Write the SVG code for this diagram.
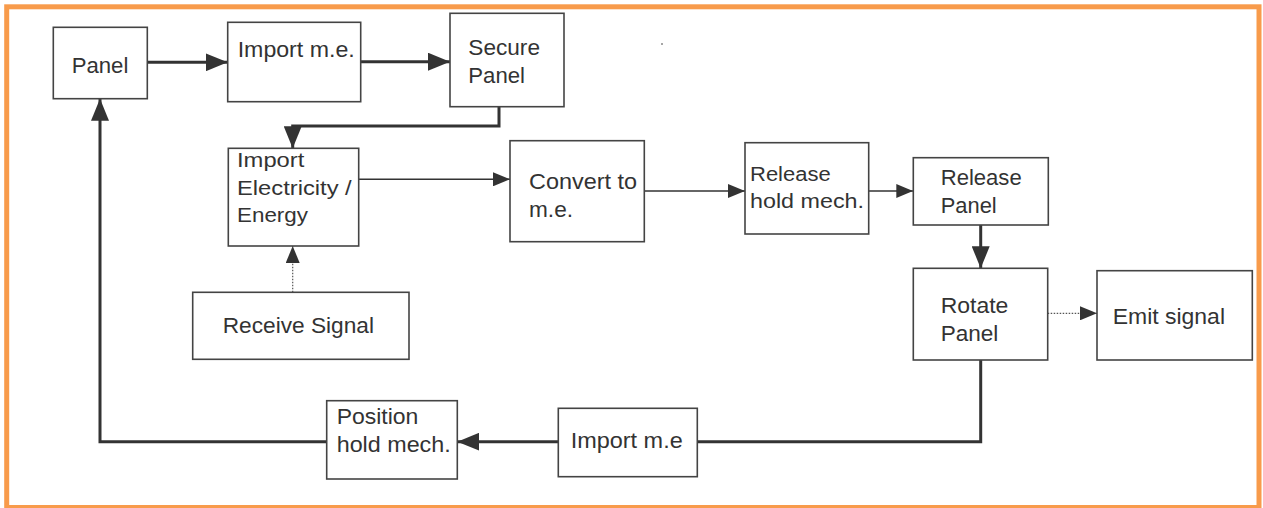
<svg xmlns="http://www.w3.org/2000/svg" width="1263" height="508" viewBox="0 0 1263 508">
  <style>
    .box { fill: #ffffff; stroke: #444444; stroke-width: 1.6; }
    .lbl { font-family: "Liberation Sans", Arial, Helvetica, sans-serif; font-size: 22px; fill: #333333; }
    .sm { font-size: 20px; }
    .thick { fill: none; stroke: #333333; stroke-width: 3; }
    .thin { fill: none; stroke: #333333; stroke-width: 1.5; }
    .dot { fill: none; stroke: #555555; stroke-width: 1.2; stroke-dasharray: 1.5 1.5; }
  </style>
  <defs>
    <marker id="headThick" markerUnits="userSpaceOnUse" markerWidth="22" markerHeight="18" refX="22" refY="9" orient="auto">
      <path d="M0,0 L22,9 L0,18 Z" fill="#333333"/>
    </marker>
    <marker id="headThin" markerUnits="userSpaceOnUse" markerWidth="17" markerHeight="14" refX="17" refY="7" orient="auto">
      <path d="M0,0 L17,7 L0,14 Z" fill="#333333"/>
    </marker>
  </defs>

  <rect width="1263" height="508" fill="#ffffff"/>
  <!-- frame -->
  <rect x="6.7" y="6.8" width="1252.3" height="500.7" fill="none" stroke="#F89B4B" stroke-width="5"/>
  <circle cx="662" cy="44" r="1" fill="#888888"/>

  <!-- connectors -->
  <g id="connectors">
    <path class="thick" d="M147.3,62.3 H227.7" marker-end="url(#headThick)"/>
    <path class="thick" d="M360.7,61.7 H450" marker-end="url(#headThick)"/>
    <path class="thick" d="M499,106.7 V126 H292.7 V148.3" marker-end="url(#headThick)"/>
    <path class="thin" d="M358.7,179.3 H510" marker-end="url(#headThin)"/>
    <path class="thin" d="M644.3,191 H745" marker-end="url(#headThin)"/>
    <path class="thin" d="M868.7,191 H913.3" marker-end="url(#headThin)"/>
    <path class="thick" d="M980.7,225 V268.3" marker-end="url(#headThick)"/>
    <path class="dot" d="M1047.7,313.3 H1097" marker-end="url(#headThin)"/>
    <path class="thick" d="M980.7,360 V441.7 H697.3"/>
    <path class="thick" d="M558.3,441.7 H457.3" marker-end="url(#headThick)"/>
    <path class="thick" d="M326.7,441.7 H100 V98.7" marker-end="url(#headThick)"/>
    <path class="dot" d="M292.7,292.3 V246" marker-end="url(#headThin)"/>
  </g>

  <!-- nodes -->
  <g id="panel">
    <rect class="box" x="53.3" y="27.3" width="94" height="71.4"/>
    <text class="lbl" x="71.7" y="72.7" textLength="56.7" lengthAdjust="spacingAndGlyphs">Panel</text>
  </g>
  <g id="import-me-top">
    <rect class="box" x="227.7" y="22.3" width="133" height="79.4"/>
    <text class="lbl" x="237.7" y="56.7" textLength="117" lengthAdjust="spacingAndGlyphs">Import m.e.</text>
  </g>
  <g id="secure-panel">
    <rect class="box" x="450" y="13.3" width="114" height="93.4"/>
    <text class="lbl" x="468.3" y="55" textLength="71.7" lengthAdjust="spacingAndGlyphs">Secure</text>
    <text class="lbl" x="468.3" y="83.3" textLength="56.7" lengthAdjust="spacingAndGlyphs">Panel</text>
  </g>
  <g id="import-electricity">
    <rect class="box" x="228.3" y="148.3" width="130.4" height="97.7"/>
    <text class="lbl sm" x="237" y="166.7" textLength="67.3" lengthAdjust="spacingAndGlyphs">Import</text>
    <text class="lbl sm" x="237" y="195" textLength="114.7" lengthAdjust="spacingAndGlyphs">Electricity /</text>
    <text class="lbl sm" x="237" y="221.7" textLength="71" lengthAdjust="spacingAndGlyphs">Energy</text>
  </g>
  <g id="convert-me">
    <rect class="box" x="510" y="140.7" width="134.3" height="101"/>
    <text class="lbl" x="529" y="189.3" textLength="108" lengthAdjust="spacingAndGlyphs">Convert to</text>
    <text class="lbl" x="529" y="216.7" textLength="44" lengthAdjust="spacingAndGlyphs">m.e.</text>
  </g>
  <g id="release-hold">
    <rect class="box" x="745" y="142.7" width="123.7" height="91.3"/>
    <text class="lbl sm" x="750" y="181" textLength="80.7" lengthAdjust="spacingAndGlyphs">Release</text>
    <text class="lbl sm" x="750" y="208.3" textLength="114" lengthAdjust="spacingAndGlyphs">hold mech.</text>
  </g>
  <g id="release-panel">
    <rect class="box" x="913.3" y="157.7" width="135" height="67.3"/>
    <text class="lbl" x="940.7" y="185" textLength="81" lengthAdjust="spacingAndGlyphs">Release</text>
    <text class="lbl" x="940.7" y="213.3" textLength="56" lengthAdjust="spacingAndGlyphs">Panel</text>
  </g>
  <g id="rotate-panel">
    <rect class="box" x="913.3" y="268.3" width="134.4" height="91.7"/>
    <text class="lbl" x="940.7" y="312.7" textLength="67.7" lengthAdjust="spacingAndGlyphs">Rotate</text>
    <text class="lbl" x="940.7" y="340.7" textLength="57.7" lengthAdjust="spacingAndGlyphs">Panel</text>
  </g>
  <g id="emit-signal">
    <rect class="box" x="1097" y="270.7" width="155.3" height="89.3"/>
    <text class="lbl" x="1112.7" y="324" textLength="112.3" lengthAdjust="spacingAndGlyphs">Emit signal</text>
  </g>
  <g id="receive-signal">
    <rect class="box" x="192.7" y="292.3" width="216.3" height="67"/>
    <text class="lbl" x="222.7" y="332.7" textLength="151.3" lengthAdjust="spacingAndGlyphs">Receive Signal</text>
  </g>
  <g id="position-hold">
    <rect class="box" x="326.7" y="400.7" width="130.6" height="78.3"/>
    <text class="lbl" x="336.7" y="424.3" textLength="81.7" lengthAdjust="spacingAndGlyphs">Position</text>
    <text class="lbl" x="336.7" y="451.7" textLength="114" lengthAdjust="spacingAndGlyphs">hold mech.</text>
  </g>
  <g id="import-me-bottom">
    <rect class="box" x="558.3" y="408.3" width="139" height="68.4"/>
    <text class="lbl" x="570.7" y="448.3" textLength="112" lengthAdjust="spacingAndGlyphs">Import m.e</text>
  </g>
</svg>
